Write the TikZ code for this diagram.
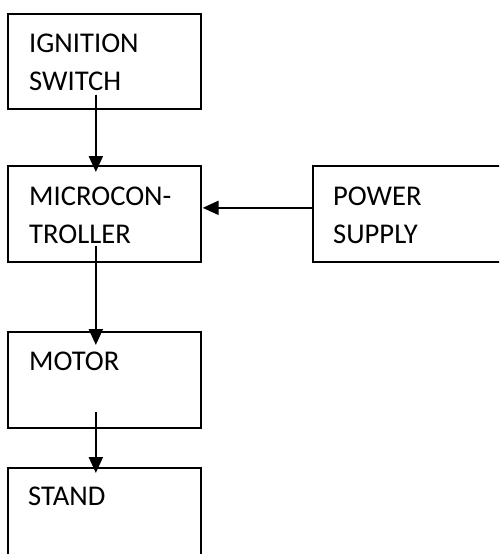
\documentclass[tikz,border=0pt]{standalone}
\usepackage{fontspec}
\setmainfont{Carlito}
\usetikzlibrary{arrows.meta}
\begin{document}
\begin{tikzpicture}[x=1pt,y=-1pt,
  blk/.style={draw, line width=1.7pt, minimum width=193pt, minimum height=96pt, inner sep=0pt, anchor=north west},
  lbl/.style={anchor=base west, inner sep=0pt, font=\fontsize{28.6}{38}\selectfont},
  conn/.style={line width=2.2pt, -{Triangle[length=16pt,width=14pt]}}]
\useasboundingbox (0,0) rectangle (499,554);
\clip (0,0) rectangle (499,554);
\node[blk, minimum height=95pt] (ig) at (7,13) {};
\node[blk] (mc) at (7,165) {};
\node[blk, minimum width=188pt] (ps) at (312,165) {};
\node[blk] (mo) at (7,331) {};
\node[blk] (st) at (7,467) {};
\node[lbl] (t1) at (29,52) {IGNITION};
\node[lbl] (t2) at (29,90) {SWITCH};
\node[lbl] (t3) at (29,205) {MICROCON-};
\node[lbl] (t4) at (29,243) {TROLLER};
\node[lbl] (t5) at (333,205) {POWER};
\node[lbl] (t6) at (333,243) {SUPPLY};
\node[lbl] (t7) at (29,370) {MOTOR};
\node[lbl] (t8) at (28,505) {STAND};
\draw[conn] ([xshift=-8.5pt,yshift=15pt]ig.south) -- ([xshift=-8.5pt,yshift=-7pt]mc.north);
\draw[conn] ([xshift=-8.5pt,yshift=17pt]mc.south) -- ([xshift=-8.5pt,yshift=-14pt]mo.north);
\draw[conn] ([xshift=-8.5pt,yshift=17pt]mo.south) -- ([xshift=-8.5pt,yshift=-6pt]st.north);
\draw[conn] ([yshift=6pt]ps.west) -- ([xshift=1pt,yshift=6pt]mc.east);
\end{tikzpicture}
\end{document}
